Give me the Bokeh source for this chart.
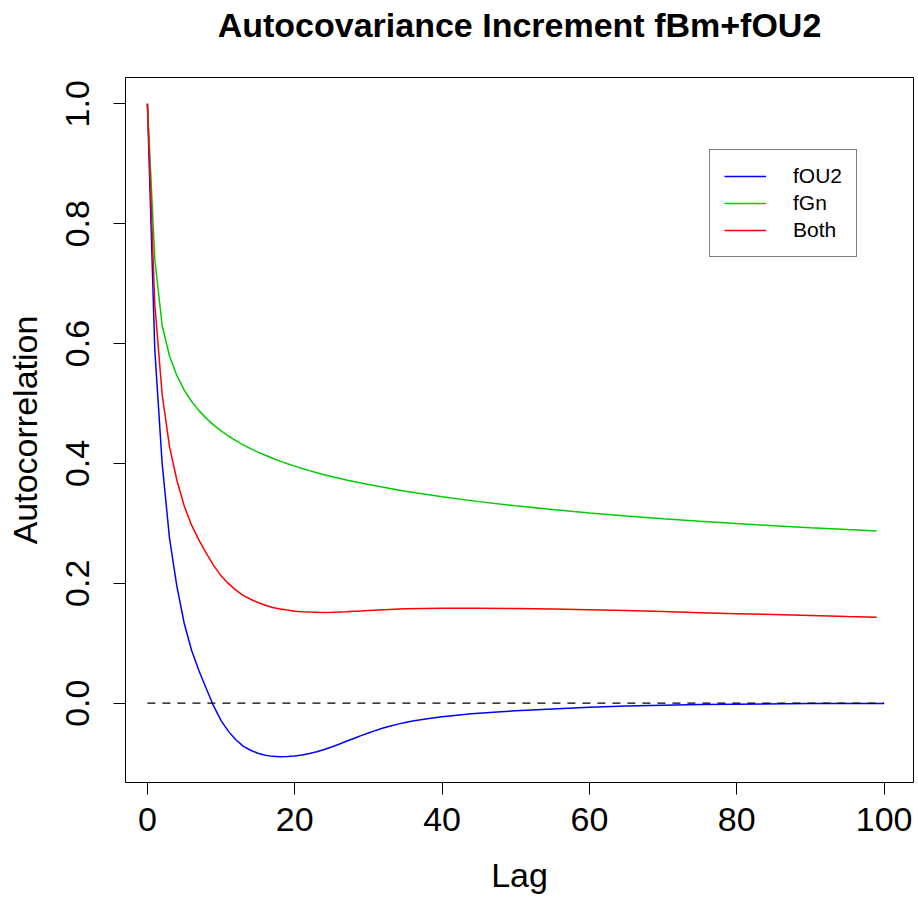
from bokeh.plotting import figure
from bokeh.models import Range1d, FixedTicker, PrintfTickFormatter, Legend, LegendItem, Title
from bokeh.embed import file_html
from bokeh.resources import INLINE

# ---- data ----
lag_fou2 = list(range(0, 37)) + [38, 40, 42, 44, 46, 48, 50, 55, 60, 65, 70, 75, 80, 90, 100]
acf_fou2 = [1.0, 0.59, 0.40, 0.275, 0.195, 0.133, 0.088, 0.054, 0.024, -0.005,
            -0.029, -0.047, -0.061, -0.0715, -0.0785, -0.0835, -0.0868, -0.0887, -0.0895, -0.0891,
            -0.0881, -0.0864, -0.0840, -0.0809, -0.0772, -0.0730, -0.0684, -0.0636, -0.0588, -0.0541,
            -0.0496, -0.0454, -0.0415, -0.0379, -0.0349, -0.0322, -0.0298,
            -0.0260, -0.0228, -0.0200, -0.0177, -0.0158, -0.0141, -0.0127, -0.0095, -0.0068,
            -0.0048, -0.0033, -0.0023, -0.0016, -0.0007, -0.0003]

lag_fgn = list(range(0, 31)) + [35, 40, 45, 50, 55, 60, 65, 70, 75, 80, 85, 90, 95, 99]
acf_fgn = [1.0, 0.7411, 0.6302, 0.5793, 0.5464, 0.5223, 0.5034, 0.4881, 0.4752, 0.4640,
           0.4543, 0.4458, 0.4381, 0.4311, 0.4247, 0.4189, 0.4136, 0.4086, 0.4039, 0.3996,
           0.3955, 0.3916, 0.3880, 0.3846, 0.3813, 0.3782, 0.3753, 0.3724, 0.3697, 0.3672,
           0.3647,
           0.3536, 0.3443, 0.3363, 0.3293, 0.3230, 0.3175, 0.3124, 0.3078, 0.3036, 0.2997,
           0.2961, 0.2927, 0.2896, 0.2872]

lag_both = list(range(0, 31)) + [35, 40, 45, 50, 55, 60, 65, 70, 75, 80, 85, 90, 95, 99]
acf_both = [1.0, 0.666, 0.515, 0.428, 0.372, 0.329, 0.297, 0.272, 0.250, 0.2295,
            0.2125, 0.1994, 0.1886, 0.180, 0.1734, 0.168, 0.1633, 0.1598, 0.1572, 0.1553,
            0.1535, 0.1525, 0.152, 0.1517, 0.1515, 0.1516, 0.152, 0.1526, 0.1533, 0.154,
            0.1548,
            0.1575, 0.1585, 0.1585, 0.158, 0.157, 0.156, 0.1545, 0.1528, 0.1511, 0.1494,
            0.1478, 0.1462, 0.1447, 0.1436]

zero_x = [0, 100]
zero_y = [0, 0]

x_ticks = [0, 20, 40, 60, 80, 100]
y_ticks = [0.0, 0.2, 0.4, 0.6, 0.8, 1.0]

series_names = ["fOU2", "fGn", "Both"]
series_colors = ["#0000FF", "#00CD00", "#FF0000"]
title_text = "Autocovariance Increment fBm+fOU2"

FONT = "Liberation Sans"

p = figure(width=918, height=899, output_backend="svg", toolbar_location=None,
           x_range=Range1d(-2.975, 103.99), y_range=Range1d(-0.1323, 1.0439),
           min_border_left=125, min_border_right=5, min_border_top=77, min_border_bottom=117)

p.background_fill_color = "white"
p.border_fill_color = "white"
p.outline_line_color = "black"
p.outline_line_width = 1
p.outline_line_alpha = 1.0
p.xgrid.visible = False
p.ygrid.visible = False

# spacer between the frame and the title, so that the title sits near the top edge
spacer = Title(text=" ", text_font=FONT, text_font_size="22px", standoff=0)
p.add_layout(spacer, "above")
main_title = Title(text=title_text, align="center", vertical_align="top", standoff=10,
                   text_font=FONT, text_font_size="34px", text_font_style="bold",
                   text_color="black")
p.add_layout(main_title, "above")

for ax in (p.xaxis[0], p.yaxis[0]):
    ax.axis_line_color = None
    ax.major_tick_line_color = "black"
    ax.major_tick_line_width = 1
    ax.major_tick_out = 12
    ax.major_tick_in = 0
    ax.minor_tick_line_color = None
    ax.major_label_text_font = FONT
    ax.major_label_text_font_size = "34px"
    ax.major_label_text_color = "black"
    ax.axis_label_text_font = FONT
    ax.axis_label_text_font_size = "34px"
    ax.axis_label_text_font_style = "normal"
    ax.axis_label_text_color = "black"

p.xaxis[0].ticker = FixedTicker(ticks=x_ticks)
p.yaxis[0].ticker = FixedTicker(ticks=y_ticks)
p.yaxis[0].formatter = PrintfTickFormatter(format="%.1f")
p.yaxis[0].major_label_orientation = "vertical"
p.xaxis[0].axis_label = "Lag"
p.yaxis[0].axis_label = "Autocorrelation"
p.xaxis[0].major_label_standoff = 13
p.xaxis[0].axis_label_standoff = 22
p.yaxis[0].major_label_standoff = 24
p.yaxis[0].axis_label_standoff = 20

r_fou2 = p.line(lag_fou2, acf_fou2, line_color=series_colors[0], line_width=1.5)
r_fgn = p.line(lag_fgn, acf_fgn, line_color=series_colors[1], line_width=1.5)
r_both = p.line(lag_both, acf_both, line_color=series_colors[2], line_width=1.5)
p.line(zero_x, zero_y, line_color="black", line_width=1.3, line_dash="8 7")

legend = Legend(items=[LegendItem(label=series_names[0], renderers=[r_fou2]),
                       LegendItem(label=series_names[1], renderers=[r_fgn]),
                       LegendItem(label=series_names[2], renderers=[r_both])],
                location=(584, 525))
legend.border_line_color = "black"
legend.border_line_width = 1
legend.background_fill_color = "white"
legend.background_fill_alpha = 1.0
legend.label_text_font = FONT
legend.label_text_font_size = "21px"
legend.label_text_color = "black"
legend.glyph_width = 42
legend.glyph_height = 14
legend.label_height = 14
legend.label_standoff = 27
legend.spacing = 3
legend.padding = 14
legend.margin = 0
p.add_layout(legend)

open("out.html", "w").write(file_html(p, INLINE))
